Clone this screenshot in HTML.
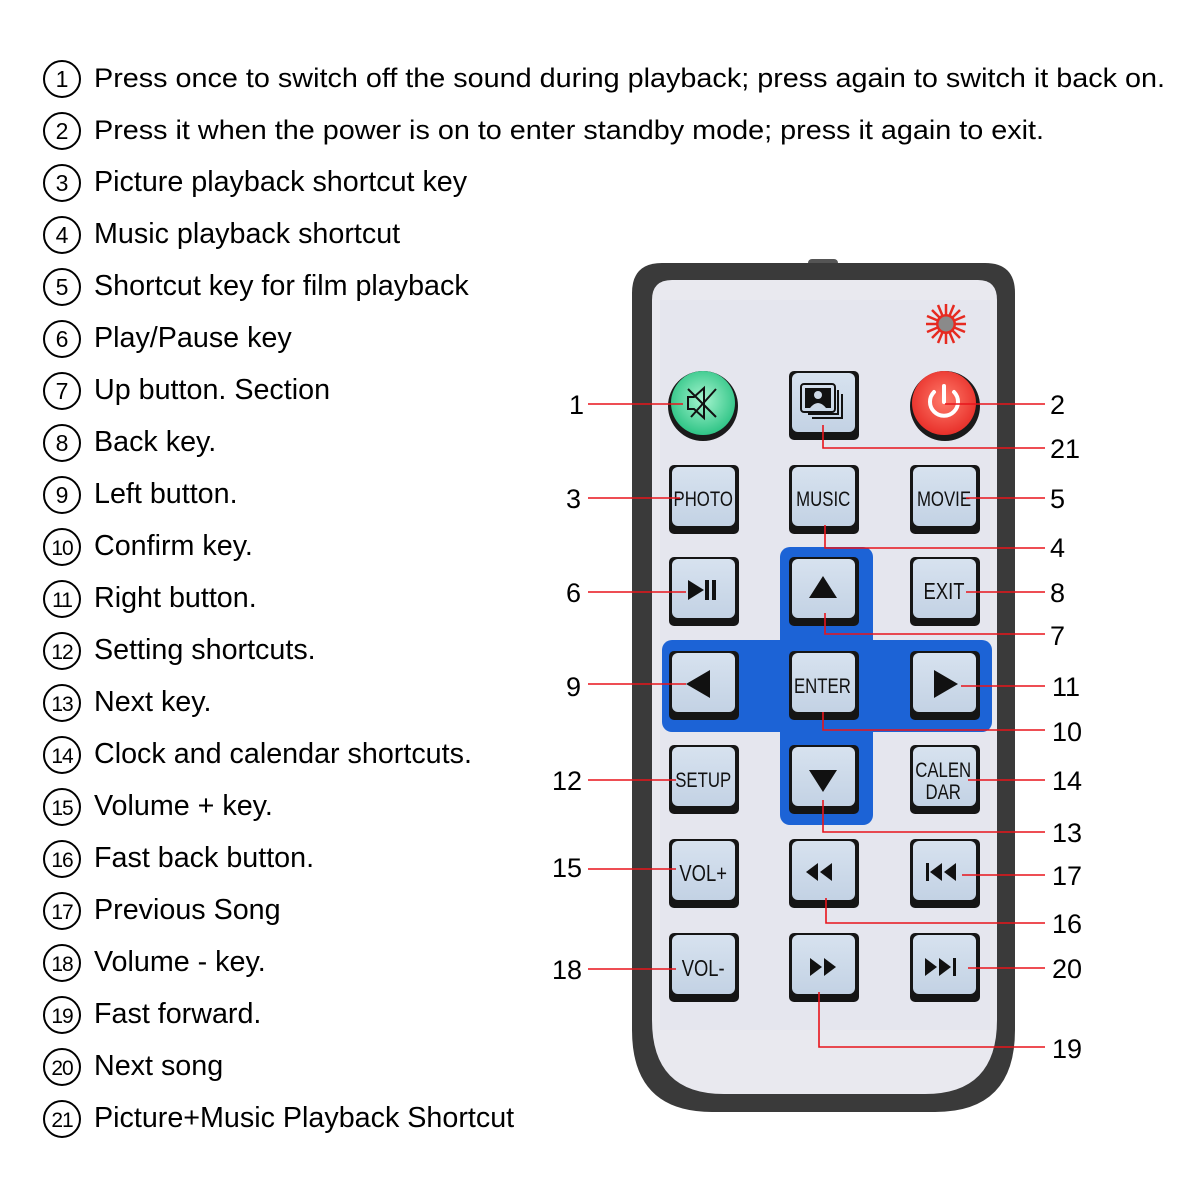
<!DOCTYPE html>
<html><head><meta charset="utf-8"><style>
html,body{margin:0;padding:0;background:#fff;}
svg{display:block;}
</style></head><body>
<svg width="1200" height="1200" viewBox="0 0 1200 1200" xmlns="http://www.w3.org/2000/svg" font-family="Liberation Sans, Arial, sans-serif">
<defs>
<linearGradient id="face" x1="0" y1="0" x2="0" y2="1"><stop offset="0" stop-color="#d7e2ef"/><stop offset="1" stop-color="#c3d2e4"/></linearGradient>
<radialGradient id="grn" cx="0.5" cy="0.45" r="0.55"><stop offset="0" stop-color="#a7f5cf"/><stop offset="1" stop-color="#2fc486"/></radialGradient>
<radialGradient id="red" cx="0.5" cy="0.45" r="0.55"><stop offset="0" stop-color="#ff7b6b"/><stop offset="1" stop-color="#e8302a"/></radialGradient>
</defs>
<!-- list -->
<g font-size="28.7" fill="#000">
<g fill="none" stroke="#000" stroke-width="2">
<circle cx="62" cy="79" r="18"/><circle cx="62" cy="131" r="18"/><circle cx="62" cy="183" r="18"/><circle cx="62" cy="235" r="18"/><circle cx="62" cy="287" r="18"/><circle cx="62" cy="339" r="18"/><circle cx="62" cy="391" r="18"/><circle cx="62" cy="443" r="18"/><circle cx="62" cy="495" r="18"/><circle cx="62" cy="547" r="18"/><circle cx="62" cy="599" r="18"/><circle cx="62" cy="651" r="18"/><circle cx="62" cy="703" r="18"/><circle cx="62" cy="755" r="18"/><circle cx="62" cy="807" r="18"/><circle cx="62" cy="859" r="18"/><circle cx="62" cy="911" r="18"/><circle cx="62" cy="963" r="18"/><circle cx="62" cy="1015" r="18"/><circle cx="62" cy="1067" r="18"/><circle cx="62" cy="1119" r="18"/>
</g>
<g font-size="23" text-anchor="middle">
<text x="62" y="87">1</text><text x="62" y="139">2</text><text x="62" y="191">3</text><text x="62" y="243">4</text><text x="62" y="295">5</text><text x="62" y="347">6</text><text x="62" y="399">7</text><text x="62" y="451">8</text><text x="62" y="503">9</text>
<g font-size="21" letter-spacing="-1"><text x="62" y="555">10</text><text x="62" y="607">11</text><text x="62" y="659">12</text><text x="62" y="711">13</text><text x="62" y="763">14</text><text x="62" y="815">15</text><text x="62" y="867">16</text><text x="62" y="919">17</text><text x="62" y="971">18</text><text x="62" y="1023">19</text><text x="62" y="1075">20</text><text x="62" y="1127">21</text></g>
</g>
<text x="94" y="87" font-size="27" textLength="1071" lengthAdjust="spacingAndGlyphs">Press once to switch off the sound during playback; press again to switch it back on.</text>
<text x="94" y="139" font-size="27" textLength="950" lengthAdjust="spacingAndGlyphs">Press it when the power is on to enter standby mode; press it again to exit.</text>
<text x="94" y="191">Picture playback shortcut key</text>
<text x="94" y="243">Music playback shortcut</text>
<text x="94" y="295">Shortcut key for film playback</text>
<text x="94" y="347">Play/Pause key</text>
<text x="94" y="399">Up button. Section</text>
<text x="94" y="451">Back key.</text>
<text x="94" y="503">Left button.</text>
<text x="94" y="555">Confirm key.</text>
<text x="94" y="607">Right button.</text>
<text x="94" y="659">Setting shortcuts.</text>
<text x="94" y="711">Next key.</text>
<text x="94" y="763">Clock and calendar shortcuts.</text>
<text x="94" y="815">Volume + key.</text>
<text x="94" y="867">Fast back button.</text>
<text x="94" y="919">Previous Song</text>
<text x="94" y="971">Volume - key.</text>
<text x="94" y="1023">Fast forward.</text>
<text x="94" y="1075">Next song</text>
<text x="94" y="1127">Picture+Music Playback Shortcut</text>
</g>

<!-- remote body -->
<rect x="808" y="259" width="30" height="10" rx="4" fill="#555"/>
<path d="M662 263 H985 Q1015 263 1015 293 V1030 Q1015 1112 935 1112 H712 Q632 1112 632 1030 V293 Q632 263 662 263 Z" fill="#3a3a3a"/>
<path d="M672 280 H978 Q997 280 997 300 V1020 Q997 1094 925 1094 H724 Q652 1094 652 1020 V300 Q652 280 672 280 Z" fill="#e9e9ef"/>
<rect x="660" y="300" width="330" height="730" fill="#e5e6ee"/>
<!-- LED -->
<g stroke="#e62a20" stroke-width="2.5">
<line x1="946" y1="304" x2="946" y2="344"/><line x1="926" y1="324" x2="966" y2="324"/><line x1="932" y1="310" x2="960" y2="338"/><line x1="960" y1="310" x2="932" y2="338"/>
<line x1="938" y1="305" x2="954" y2="343"/><line x1="954" y1="305" x2="938" y2="343"/><line x1="927" y1="316" x2="965" y2="332"/><line x1="927" y1="332" x2="965" y2="316"/>
</g>
<circle cx="946" cy="324" r="10" fill="#e62a20"/><circle cx="946" cy="324" r="7.5" fill="#8a8a8a"/>

<!-- blue cross -->
<g fill="#1c63d6">
<rect x="780" y="547" width="93" height="278" rx="10"/>
<rect x="662" y="640" width="330" height="92" rx="10"/>
</g>

<!-- round buttons -->
<circle cx="703" cy="406" r="35" fill="#1a1a1a"/><circle cx="703" cy="403" r="32" fill="url(#grn)"/>
<g stroke="#111" stroke-width="2" fill="none"><path d="M688 397 h6 l10 -9 v30 l-10 -9 h-6 z"/><line x1="688" y1="389" x2="716" y2="417"/><line x1="716" y1="389" x2="691" y2="417"/></g>
<circle cx="945" cy="406" r="35" fill="#1a1a1a"/><circle cx="944" cy="403" r="32" fill="url(#red)"/>
<g stroke="#fff" stroke-width="4" fill="none" stroke-linecap="round"><path d="M934 392 A14 14 0 1 0 954 392"/><line x1="944" y1="386" x2="944" y2="402"/></g>

<!-- square buttons -->
<g id="btns">
<g><rect x="789" y="371" width="70" height="69" rx="5" fill="#151515"/><rect x="792" y="373" width="63" height="59" rx="6" fill="url(#face)"/></g>
<g><rect x="669" y="465" width="70" height="69" rx="5" fill="#151515"/><rect x="672" y="467" width="63" height="59" rx="6" fill="url(#face)"/></g>
<g><rect x="789" y="465" width="70" height="69" rx="5" fill="#151515"/><rect x="792" y="467" width="63" height="59" rx="6" fill="url(#face)"/></g>
<g><rect x="910" y="465" width="70" height="69" rx="5" fill="#151515"/><rect x="913" y="467" width="63" height="59" rx="6" fill="url(#face)"/></g>
<g><rect x="669" y="557" width="70" height="69" rx="5" fill="#151515"/><rect x="672" y="559" width="63" height="59" rx="6" fill="url(#face)"/></g>
<g><rect x="789" y="557" width="70" height="69" rx="5" fill="#151515"/><rect x="792" y="559" width="63" height="59" rx="6" fill="url(#face)"/></g>
<g><rect x="910" y="557" width="70" height="69" rx="5" fill="#151515"/><rect x="913" y="559" width="63" height="59" rx="6" fill="url(#face)"/></g>
<g><rect x="669" y="651" width="70" height="69" rx="5" fill="#151515"/><rect x="672" y="653" width="63" height="59" rx="6" fill="url(#face)"/></g>
<g><rect x="789" y="651" width="70" height="69" rx="5" fill="#151515"/><rect x="792" y="653" width="63" height="59" rx="6" fill="url(#face)"/></g>
<g><rect x="910" y="651" width="70" height="69" rx="5" fill="#151515"/><rect x="913" y="653" width="63" height="59" rx="6" fill="url(#face)"/></g>
<g><rect x="669" y="745" width="70" height="69" rx="5" fill="#151515"/><rect x="672" y="747" width="63" height="59" rx="6" fill="url(#face)"/></g>
<g><rect x="789" y="745" width="70" height="69" rx="5" fill="#151515"/><rect x="792" y="747" width="63" height="59" rx="6" fill="url(#face)"/></g>
<g><rect x="910" y="745" width="70" height="69" rx="5" fill="#151515"/><rect x="913" y="747" width="63" height="59" rx="6" fill="url(#face)"/></g>
<g><rect x="669" y="839" width="70" height="69" rx="5" fill="#151515"/><rect x="672" y="841" width="63" height="59" rx="6" fill="url(#face)"/></g>
<g><rect x="789" y="839" width="70" height="69" rx="5" fill="#151515"/><rect x="792" y="841" width="63" height="59" rx="6" fill="url(#face)"/></g>
<g><rect x="910" y="839" width="70" height="69" rx="5" fill="#151515"/><rect x="913" y="841" width="63" height="59" rx="6" fill="url(#face)"/></g>
<g><rect x="669" y="933" width="70" height="69" rx="5" fill="#151515"/><rect x="672" y="935" width="63" height="59" rx="6" fill="url(#face)"/></g>
<g><rect x="789" y="933" width="70" height="69" rx="5" fill="#151515"/><rect x="792" y="935" width="63" height="59" rx="6" fill="url(#face)"/></g>
<g><rect x="910" y="933" width="70" height="69" rx="5" fill="#151515"/><rect x="913" y="935" width="63" height="59" rx="6" fill="url(#face)"/></g>
</g>
<!-- picture icon -->
<g fill="none" stroke="#111" stroke-width="2"><rect x="801" y="384" width="34" height="28" rx="3"/><path d="M838 390 v24 h-30"/><path d="M842 394 v24 h-30"/></g>
<rect x="805" y="388" width="26" height="20" fill="#111"/><circle cx="818" cy="395" r="4" fill="#cdd8e6"/><path d="M810 408 q8 -10 16 0z" fill="#cdd8e6"/>

<!-- button labels -->
<g font-size="21" text-anchor="middle" fill="#111" transform="scale(0.8 1)">
<text x="879" y="506">PHOTO</text>
<text x="1029" y="506">MUSIC</text>
<text x="1180" y="506">MOVIE</text>
<text x="1180" y="599" font-size="23">EXIT</text>
<text x="1028" y="693">ENTER</text>
<text x="879" y="787">SETUP</text>
<text x="1179" y="777">CALEN</text>
<text x="1179" y="799">DAR</text>
<text x="879" y="881" font-size="23">VOL+</text>
<text x="879" y="976" font-size="23">VOL-</text>
</g>
<!-- icons -->
<g fill="#111">
<path d="M688 580 l16 10 l-16 10z"/><rect x="705" y="580" width="4" height="20"/><rect x="712" y="580" width="4" height="20"/>
<path d="M823 576 l14 22 h-28z"/>
<path d="M686 684 l24 -14 v28z"/>
<path d="M958 684 l-24 -14 v28z"/>
<path d="M823 792 l14 -22 h-28z"/>
<path d="M806 872 l12 -9 v18z"/><path d="M820 872 l12 -9 v18z"/>
<rect x="926" y="863" width="3" height="18"/><path d="M930 872 l12 -9 v18z"/><path d="M944 872 l12 -9 v18z"/>
<path d="M810 958 l12 9 l-12 9z"/><path d="M824 958 l12 9 l-12 9z"/>
<path d="M925 958 l12 9 l-12 9z"/><path d="M939 958 l12 9 l-12 9z"/><rect x="953" y="958" width="3" height="18"/>
</g>

<!-- leader lines -->
<g stroke="#e8141b" stroke-width="1.6" fill="none">
<path d="M588 404 H683"/>
<path d="M945 404 H1045"/>
<path d="M823 425 V448 H1045"/>
<path d="M588 498 H680"/>
<path d="M966 498 H1045"/>
<path d="M825 525 V548 H1045"/>
<path d="M588 592 H686"/>
<path d="M966 592 H1045"/>
<path d="M825 613 V634 H1045"/>
<path d="M588 684 H686"/>
<path d="M961 686 H1045"/>
<path d="M823 712 V730 H1045"/>
<path d="M588 780 H676"/>
<path d="M968 780 H1045"/>
<path d="M823 800 V832 H1045"/>
<path d="M588 869 H676"/>
<path d="M962 875 H1045"/>
<path d="M826 898 V923 H1045"/>
<path d="M588 969 H676"/>
<path d="M968 968 H1045"/>
<path d="M819 992 V1047 H1045"/>
</g>
<g font-size="27" fill="#000">
<g text-anchor="end">
<text x="584" y="414">1</text><text x="581" y="508">3</text><text x="581" y="602">6</text><text x="581" y="696">9</text><text x="582" y="790">12</text><text x="582" y="877">15</text><text x="582" y="979">18</text>
</g>
<text x="1050" y="414">2</text><text x="1050" y="458">21</text><text x="1050" y="508">5</text><text x="1050" y="557">4</text><text x="1050" y="602">8</text><text x="1050" y="645">7</text><text x="1052" y="696">11</text><text x="1052" y="741">10</text><text x="1052" y="790">14</text><text x="1052" y="842">13</text><text x="1052" y="885">17</text><text x="1052" y="933">16</text><text x="1052" y="978">20</text><text x="1052" y="1058">19</text>
</g>
</svg>
</body></html>
